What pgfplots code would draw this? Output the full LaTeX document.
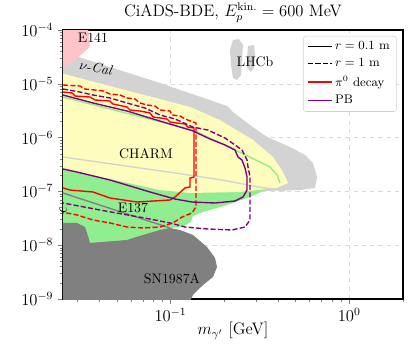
\documentclass[border=0pt]{standalone}
\usepackage{fix-cm}
\usepackage{pgfplots}
\pgfplotsset{compat=1.18}

\definecolor{nucal}{RGB}{211,211,211}
\definecolor{eonefour}{RGB}{255,195,202}
\definecolor{charm}{RGB}{255,253,190}
\definecolor{ethirty}{RGB}{144,238,144}
\definecolor{snova}{RGB}{128,128,128}
\definecolor{pbpurple}{RGB}{128,0,128}

\begin{document}
\begin{tikzpicture}
\begin{axis}[
  scale only axis,
  width=3.40in, height=2.69in,
  xmode=log, ymode=log,
  xmin=0.025, xmax=2, ymin=1e-9, ymax=1e-4,
  xtick={0.1,1},
  minor xtick={0.03,0.04,0.05,0.06,0.07,0.08,0.09,0.2,0.3,0.4,0.5,0.6,0.7,0.8,0.9,2},
  ytick={1e-9,1e-8,1e-7,1e-6,1e-5,1e-4},
  minor ytick={2e-9,3e-9,4e-9,5e-9,6e-9,7e-9,8e-9,9e-9,
               2e-8,3e-8,4e-8,5e-8,6e-8,7e-8,8e-8,9e-8,
               2e-7,3e-7,4e-7,5e-7,6e-7,7e-7,8e-7,9e-7,
               2e-6,3e-6,4e-6,5e-6,6e-6,7e-6,8e-6,9e-6,
               2e-5,3e-5,4e-5,5e-5,6e-5,7e-5,8e-5,9e-5},
  tick pos=left, tick align=outside,
  major tick length=3.5pt, minor tick length=2pt,
  tick label style={font=\large},
  label style={font=\large},
  title style={font=\large, at={(0.5,1)}, anchor=base, yshift=0.05in},
  title={CiADS-BDE, $E_p^{\mathrm{kin.}}=600$ MeV},
  xlabel={$m_{\gamma'}$ [GeV]},
  xlabel style={at={(rel axis cs:0.5,0)}, anchor=center, yshift=-0.32in},
  ylabel={$\epsilon$},
  ylabel style={at={(rel axis cs:0,0.5)}, anchor=center, xshift=-0.46in},
  grid=major,
  major grid style={dashed, gray!30, line width=0.4pt},
  axis line style={line width=0.8pt},
  legend style={font=\small, at={(0.982,0.978)}, anchor=north east,
                draw=gray!35, rounded corners=2pt, fill=white,
                fill opacity=0.85, text opacity=1, row sep=1pt},
  legend cell align=left,
]
%% nu-Cal
\addplot[fill=nucal, draw=none, forget plot] coordinates {
  (0.024,4.07e-5)(0.0873,1.035e-5)(0.2070,3.87e-6)(0.2236,2.99e-6)
  (0.2785,1.71e-6)(0.3466,1.03e-6)(0.4663,6.69e-7)(0.5656,4.75e-7)
  (0.6270,3.37e-7)(0.6604,1.85e-7)(0.6435,1.16e-7)(0.5304,1.06e-7)
  (0.3378,1.02e-7)(0.2447,2.50e-7)(0.1285,3.55e-6)(0.024,1.59e-5)
} -- cycle;
%% LHCb
\addplot[fill=nucal, draw=none, forget plot] coordinates {
  (0.2236,6.52e-5)(0.2416,6.80e-5)(0.2544,5.26e-5)(0.2511,2.77e-5)
  (0.2479,1.46e-5)(0.2355,1.18e-5)(0.2236,1.28e-5)(0.2179,2.24e-5)
  (0.2151,4.25e-5)
} -- cycle;
\addplot[fill=nucal, draw=none, forget plot] coordinates {
  (0.2714,5.04e-5)(0.2931,5.26e-5)(0.2970,3.43e-5)(0.2931,1.97e-5)
  (0.2820,1.66e-5)(0.2679,1.97e-5)(0.2679,3.02e-5)
} -- cycle;
%% E141
\addplot[fill=eonefour, draw=none, forget plot] coordinates {
  (0.024,1.1e-4)(0.0345,1.1e-4)(0.0354,4.83e-5)(0.0292,2.77e-5)(0.024,1.81e-5)
} -- cycle;
%% E137
\addplot[fill=ethirty, draw=none, forget plot] coordinates {
  (0.024,3.83e-7)(0.3843,1.26e-7)(0.3603,1.16e-7)(0.2785,7.87e-8)
  (0.2070,5.59e-8)(0.1519,4.14e-8)(0.1335,3.49e-8)(0.1301,2.70e-8)
  (0.1159,2.18e-8)(0.0993,2.09e-8)(0.0767,1.36e-8)(0.0701,1.01e-8)
  (0.024,1.01e-8)
} -- cycle;
%% CHARM
\addplot[fill=charm, draw=none, forget plot] coordinates {
  (0.024,1.59e-5)(0.1285,3.71e-6)(0.1892,2.12e-6)(0.2894,9.02e-7)
  (0.3745,4.36e-7)(0.4261,2.29e-7)(0.4544,1.43e-7)(0.3943,1.16e-7)
  (0.2447,9.75e-8)(0.1285,9.34e-8)(0.0873,1.06e-7)(0.024,2.72e-7)
} -- cycle;
%% SN1987A
\addplot[fill=snova, draw=none, forget plot] coordinates {
  (0.024,2.59e-8)(0.0300,2.59e-8)(0.0332,2.18e-8)(0.0341,1.69e-8)
  (0.0354,1.10e-8)(0.0570,1.25e-8)(0.0701,1.55e-8)(0.0873,1.92e-8)
  (0.0993,2.09e-8)(0.1130,1.92e-8)(0.1335,1.55e-8)(0.1600,9.26e-9)
  (0.1774,5.78e-9)(0.1820,3.93e-9)(0.1728,2.56e-9)(0.1519,1.82e-9)
  (0.1335,1.19e-9)(0.1285,9e-10)(0.024,9e-10)
} -- cycle;
%% boundary lines
\addplot[color=ethirty, line width=1pt, forget plot] coordinates {
  (0.025,5.68e-6)(0.1335,1.38e-6)(0.2295,5.88e-7)(0.3167,3.52e-7)
  (0.3603,2.84e-7)(0.3943,2.02e-7)(0.4099,1.43e-7)
};
\addplot[color=nucal, line width=1pt, forget plot] coordinates {
  (0.025,4.36e-7)(0.1059,2.20e-7)(0.1941,1.63e-7)(0.3087,1.21e-7)(0.4372,1.02e-7)
};
\addplot[color=snova, line width=1pt, forget plot] coordinates {
  (0.025,9.34e-8)(0.0993,2.09e-8)
};
%% pi0 decay, r = 0.1 m
\addplot[color=red, line width=1pt, forget plot] coordinates {
  (0.025,7.04e-6)(0.0281,6.75e-6)(0.0292,5.93e-6)(0.0354,5.68e-6)
  (0.0378,5.00e-6)(0.0458,4.79e-6)(0.0476,4.21e-6)(0.0570,3.71e-6)
  (0.0593,3.26e-6)(0.0674,3.12e-6)(0.0767,2.87e-6)(0.0798,2.42e-6)
  (0.0955,2.22e-6)(0.0993,1.95e-6)(0.1087,1.87e-6)(0.1205,1.79e-6)
  (0.1252,1.57e-6)(0.1353,1.51e-6)(0.1353,1.85e-7)(0.1285,1.77e-7)
  (0.1285,1.21e-7)(0.1205,1.16e-7)(0.1059,7.87e-8)(0.0993,6.92e-8)
  (0.0649,6.35e-8)(0.0458,7.54e-8)(0.0368,9.75e-8)(0.0274,1.06e-7)
  (0.025,1.16e-7)
};
%% pi0 decay, r = 1 m
\addplot[color=red, line width=1pt, dash pattern=on 3.7pt off 1.6pt, forget plot] coordinates {
  (0.025,9.50e-6)(0.0311,9.10e-6)(0.0332,8.00e-6)(0.0378,7.67e-6)
  (0.0419,7.35e-6)(0.0458,6.46e-6)(0.0521,6.19e-6)(0.0570,5.45e-6)
  (0.0632,5.22e-6)(0.0674,4.40e-6)(0.0738,4.04e-6)(0.0818,3.87e-6)
  (0.0873,3.26e-6)(0.0993,3.12e-6)(0.1019,2.63e-6)(0.1130,2.52e-6)
  (0.1205,2.22e-6)(0.1335,1.95e-6)(0.1388,1.87e-6)(0.1388,5.13e-8)
  (0.1318,3.97e-8)(0.1159,3.34e-8)(0.1032,2.59e-8)(0.0873,2.18e-8)
  (0.0701,2.09e-8)(0.0570,2.18e-8)(0.0458,2.59e-8)(0.0368,2.94e-8)
  (0.0300,3.64e-8)(0.0263,3.97e-8)(0.025,3.97e-8)
};
%% PB, r = 0.1 m
\addplot[color=pbpurple, line width=1pt, forget plot] coordinates {
  (0.025,6.19e-6)(0.0368,4.40e-6)(0.0570,3.12e-6)(0.0873,2.03e-6)
  (0.1335,1.33e-6)(0.1663,9.42e-7)(0.2017,7.29e-7)(0.2295,5.88e-7)
  (0.2385,4.36e-7)(0.2511,3.83e-7)(0.2611,2.72e-7)(0.2679,1.85e-7)
  (0.2679,1.06e-7)(0.2544,7.87e-8)(0.2295,6.63e-8)(0.1774,6.09e-8)
  (0.1318,6.35e-8)(0.1059,7.22e-8)(0.0767,9.75e-8)(0.0458,1.63e-7)
  (0.0300,2.29e-7)(0.025,2.61e-7)
};
%% PB, r = 1 m
\addplot[color=pbpurple, line width=1pt, dash pattern=on 3.7pt off 1.6pt, forget plot] coordinates {
  (0.025,8.00e-6)(0.0311,7.04e-6)(0.0368,6.19e-6)(0.0458,5.45e-6)
  (0.0570,4.40e-6)(0.0719,3.55e-6)(0.0873,2.63e-6)(0.1059,2.22e-6)
  (0.1335,1.57e-6)(0.1620,1.38e-6)(0.2017,9.83e-7)(0.2295,7.29e-7)
  (0.2511,5.88e-7)(0.2679,3.83e-7)(0.2714,2.84e-7)(0.2785,1.85e-7)
  (0.2785,2.94e-8)(0.2611,2.18e-8)(0.2208,1.92e-8)(0.1620,2.00e-8)
  (0.1205,2.18e-8)(0.0993,2.59e-8)(0.0767,3.07e-8)(0.0403,4.51e-8)
  (0.025,6.09e-8)
};
%% legend
\addlegendimage{black, line width=1pt}
\addlegendentry{$r=0.1$ m}
\addlegendimage{black, line width=1pt, dash pattern=on 3.7pt off 1.6pt}
\addlegendentry{$r=1$ m}
\addlegendimage{red, line width=1pt}
\addlegendentry{$\pi^0$ decay}
\addlegendimage{pbpurple, line width=1pt}
\addlegendentry{PB}
%% labels
\node at (axis cs:0.0368,7.10e-5) {E141};
\node[rotate=-10] at (axis cs:0.0383,1.97e-5) {$\nu$-\textit{Cal}};
\node at (axis cs:0.2970,2.54e-5) {LHCb};
\node at (axis cs:0.0729,4.96e-7) {CHARM};
\node at (axis cs:0.0616,4.91e-8) {E137};
\node at (axis cs:0.1019,2.35e-9) {SN1987A};
\end{axis}
\pgfresetboundingbox
\path ([xshift=-0.63in,yshift=-0.53in]current axis.south west)
  rectangle ([xshift=0.09in,yshift=0.30in]current axis.north east);
\end{tikzpicture}
\end{document}
